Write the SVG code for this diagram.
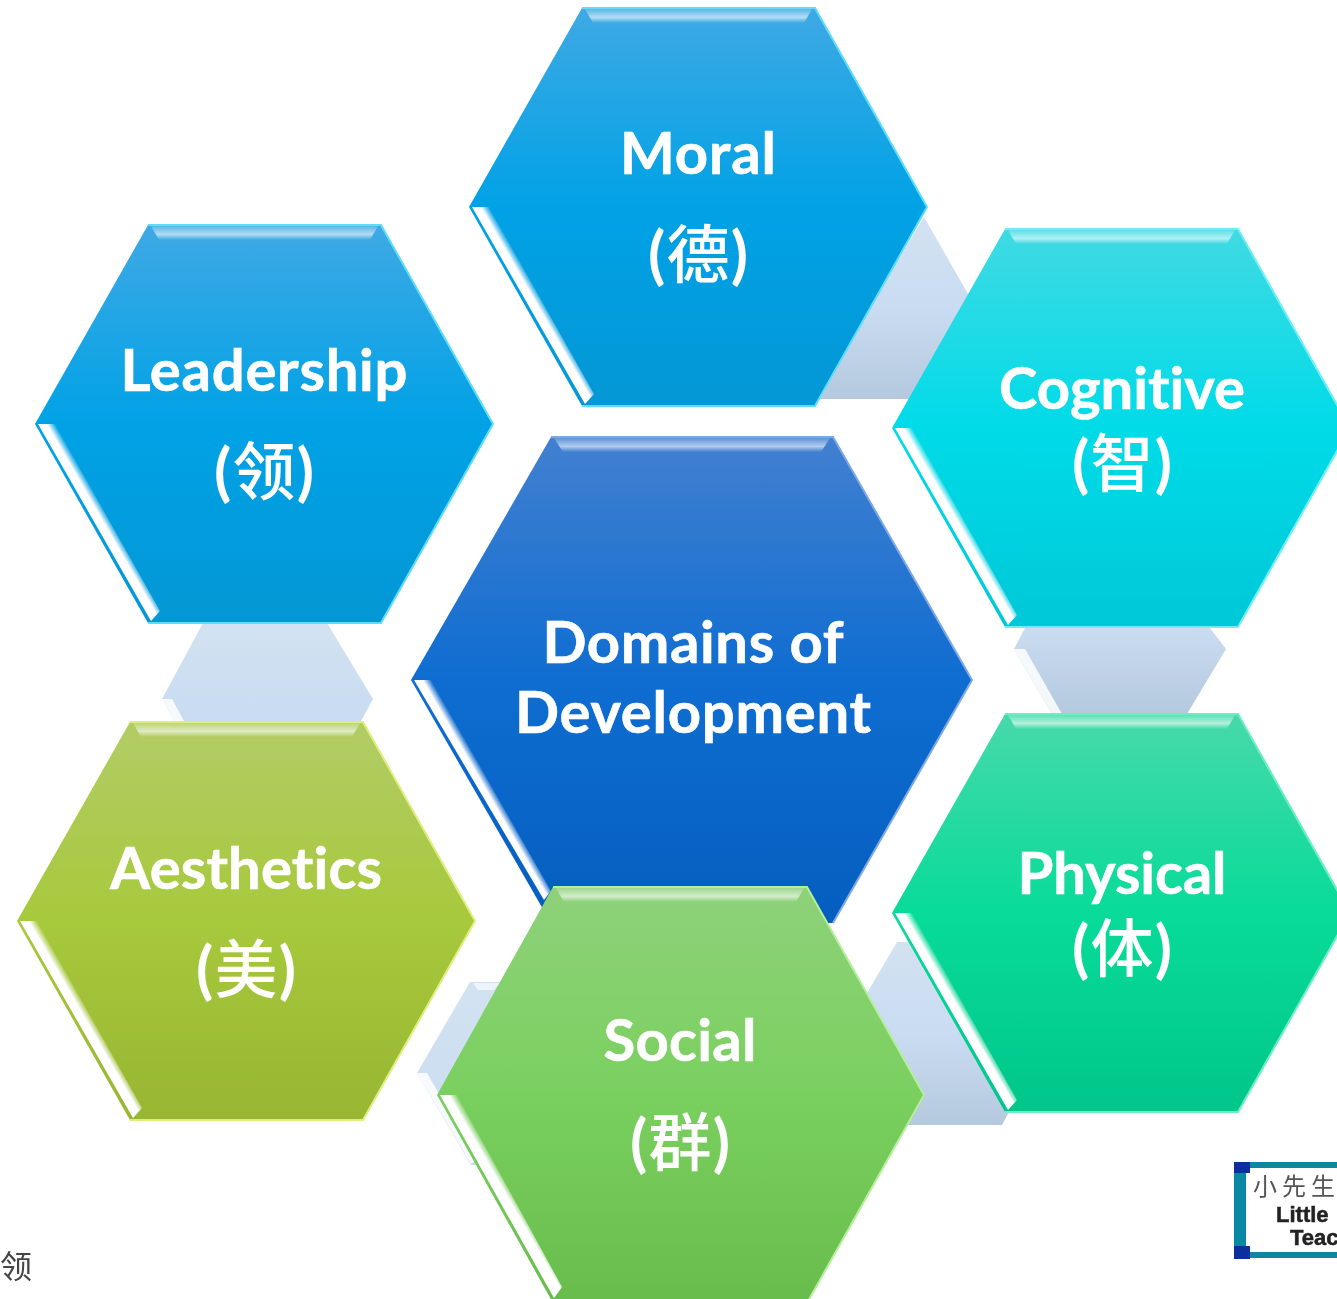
<svg xmlns="http://www.w3.org/2000/svg" xmlns:xlink="http://www.w3.org/1999/xlink" width="1337" height="1299" viewBox="0 0 1337 1299">
<style>
.lb{font-family:"Lato","Noto Sans CJK SC",sans-serif;font-weight:700;font-size:58px;fill:#fff;stroke:#fff;stroke-width:.6;text-anchor:middle;font-variant-ligatures:none}
.cj{font-family:"Lato","Noto Sans CJK SC",sans-serif;font-weight:700;font-size:63px;fill:#fff;text-anchor:middle}
.h{font-weight:500}
.edge{fill:none;stroke:currentColor;stroke-width:2}
.top{fill:url(#gTop)}
.pa{fill:url(#gPaleA)}
.pb{fill:url(#gPaleB)}
.pc{fill:url(#gPaleC)}
.pw{fill:#fff;opacity:.85}
</style>
<defs>
<filter id="blur" x="-10%" y="-10%" width="120%" height="120%"><feGaussianBlur stdDeviation=".7"/></filter>
<linearGradient id="gTop" x1="0" y1="0" x2="0" y2="1"><stop offset="0" stop-color="#fff" stop-opacity=".15"/><stop offset=".6" stop-color="#fff" stop-opacity=".6"/><stop offset="1" stop-color="#fff" stop-opacity="0"/></linearGradient>
<linearGradient id="gStrip" gradientUnits="userSpaceOnUse" x1="3" y1="199" x2="16" y2="191.5"><stop offset="0" stop-color="#fff"/><stop offset=".5" stop-color="#fff"/><stop offset="1" stop-color="#fff" stop-opacity="0"/></linearGradient>
<linearGradient id="gStripC" gradientUnits="userSpaceOnUse" x1="414" y1="680" x2="427" y2="672.5"><stop offset="0" stop-color="#fff"/><stop offset=".5" stop-color="#fff"/><stop offset="1" stop-color="#fff" stop-opacity="0"/></linearGradient>
<linearGradient id="gStripS" gradientUnits="userSpaceOnUse" x1="440" y1="1095" x2="453" y2="1087.5"><stop offset="0" stop-color="#fff"/><stop offset=".5" stop-color="#fff"/><stop offset="1" stop-color="#fff" stop-opacity="0"/></linearGradient>
<linearGradient id="gPaleA" x1="0" y1="0" x2="0" y2="1"><stop offset="0" stop-color="#d3e2f1"/><stop offset=".5" stop-color="#c9dcf2"/><stop offset="1" stop-color="#b5c9de"/></linearGradient>
<linearGradient id="gPaleB" x1="0" y1="0" x2="0" y2="1"><stop offset="0" stop-color="#d2e2f1"/><stop offset="1" stop-color="#c8dbf1"/></linearGradient>
<linearGradient id="gPaleC" x1="0" y1="0" x2="0" y2="1"><stop offset="0" stop-color="#c9dcf2"/><stop offset="1" stop-color="#b5c9de"/></linearGradient>
<linearGradient id="gBlue" x1="0" y1="0" x2="0" y2="1"><stop offset="0" stop-color="#3fa9e4"/><stop offset=".5" stop-color="#00a2e6"/><stop offset="1" stop-color="#0497d5"/></linearGradient>
<linearGradient id="gCen" x1="0" y1="0" x2="0" y2="1"><stop offset="0" stop-color="#4280d0"/><stop offset=".5" stop-color="#0f6dd1"/><stop offset="1" stop-color="#045ebf"/></linearGradient>
<linearGradient id="gCyan" x1="0" y1="0" x2="0" y2="1"><stop offset="0" stop-color="#40dae3"/><stop offset=".5" stop-color="#00dbe8"/><stop offset="1" stop-color="#00c8d8"/></linearGradient>
<linearGradient id="gTeal" x1="0" y1="0" x2="0" y2="1"><stop offset="0" stop-color="#47d9a9"/><stop offset=".5" stop-color="#08db9a"/><stop offset="1" stop-color="#00c68a"/></linearGradient>
<linearGradient id="gOlive" x1="0" y1="0" x2="0" y2="1"><stop offset="0" stop-color="#b2cc66"/><stop offset=".5" stop-color="#a7c93c"/><stop offset="1" stop-color="#98b632"/></linearGradient>
<linearGradient id="gGreen" x1="0" y1="0" x2="0" y2="1"><stop offset="0" stop-color="#8ed17a"/><stop offset=".5" stop-color="#7ad05f"/><stop offset="1" stop-color="#68bc4c"/></linearGradient>
<g id="hex">
<polygon points="113,0 346,0 458,199 346,398 113,398 0,199"/>
<polygon class="top" points="116,1 343,1 335,15 124,15"/>
<polyline class="edge" points="113,0 346,0 458,199 346,398 113,398"/>
<polygon fill="url(#gStrip)" points="3,199 20,199 125,386 116,396"/>
</g>
</defs>
<rect width="1337" height="1299" fill="#fff"/>

<g id="connectors">
<polygon class="pa" points="924,217 1000,350 975,399 820,399 880,290"/>
<polygon class="pb" points="203,623 327,623 373,699 360,723 176,723 162,699"/>
<polygon class="pw" points="162,699 172,699 185,723 176,723"/>
<polygon class="pc" points="1025,628 1210,628 1226,649 1187,714 1052,714 1014,649"/>
<polygon class="pw" points="1014,649 1025,649 1062,714 1052,714"/>
<polygon class="pa" points="897,942 860,1005 900,1125 1002,1125 1010,1110 950,1000 915,942"/>
<polygon class="pb" points="470,982 510,982 540,1100 480,1165 471,1165 417,1073"/>
<polygon class="pw" points="417,1073 427,1073 477,1160 471,1164"/>
<polygon fill="#eef4fb" points="473,983 500,983 494,990 478,990"/>
</g>

<g id="node-domains" color="#7fa8e4">
<polygon fill="url(#gCen)" points="551,437 833,437 972,680 833,923 551,923 411,680"/>
<polygon class="top" points="554,438 830,438 821,452 563,452"/>
<polyline class="edge" points="551,437 833,437 972,680 833,923"/>
<polygon fill="url(#gStripC)" points="414,680 431,680 551,891 544,900"/>
<text class="lb" x="693" y="663" textLength="301">Domains of</text>
<text class="lb" x="693" y="733" textLength="356">Development</text>
</g>

<g id="node-moral" fill="url(#gBlue)" color="#5fdcf8">
<use href="#hex" xlink:href="#hex" x="469" y="8"/>
<text class="lb" x="698" y="174" textLength="156">Moral</text>
<text class="cj" x="698" y="277" textLength="100">(<tspan class="h">德</tspan>)</text>
</g>

<g id="node-leadership" fill="url(#gBlue)" color="#5fdcf8">
<use href="#hex" xlink:href="#hex" x="35" y="225"/>
<text class="lb" x="264" y="391" textLength="287">Leadership</text>
<text class="cj" x="264" y="494" textLength="100">(<tspan class="h">领</tspan>)</text>
</g>

<g id="node-cognitive" fill="url(#gCyan)" color="#6feef2">
<use href="#hex" xlink:href="#hex" x="892" y="229"/>
<text class="lb" x="1122" y="409" textLength="246">Cognitive</text>
<text class="cj" x="1122" y="486" textLength="100">(<tspan class="h">智</tspan>)</text>
</g>

<g id="node-physical" fill="url(#gTeal)" color="#6beec4">
<use href="#hex" xlink:href="#hex" x="892" y="714"/>
<text class="lb" x="1122" y="894" textLength="209">Physical</text>
<text class="cj" x="1122" y="971" textLength="100">(<tspan class="h">体</tspan>)</text>
</g>

<g id="node-aesthetics" fill="url(#gOlive)" color="#dcee7c">
<use href="#hex" xlink:href="#hex" x="17" y="722"/>
<text class="lb" x="246" y="889" textLength="272">Aesthetics</text>
<text class="cj" x="246" y="992" textLength="100">(<tspan class="h">美</tspan>)</text>
</g>

<g id="node-social" color="#b5ee9c">
<polygon fill="url(#gGreen)" points="553,887 807,887 924,1095 807,1303 553,1303 437,1095"/>
<polygon class="top" points="556,888 804,888 796,902 564,902"/>
<polyline class="edge" points="553,887 807,887 924,1095 807,1303"/>
<polygon fill="url(#gStripS)" points="440,1095 457,1095 562,1287 554,1298"/>
<text class="lb" x="680" y="1061" textLength="153">Social</text>
<text class="cj" x="680" y="1165" textLength="100">(<tspan class="h">群</tspan>)</text>
</g>

<g id="logo">
<rect x="1240" y="1165" width="110" height="90" fill="#fff" stroke="#11879f" stroke-width="6"/>
<rect x="1234" y="1162" width="16" height="11" fill="#0b2f9c"/>
<rect x="1234" y="1246" width="16" height="13" fill="#0b2f9c"/>
<rect x="1234" y="1173" width="12" height="73" fill="#0a89a6"/>
<text x="1253" y="1195" font-family="'Noto Sans CJK SC',sans-serif" font-size="24" letter-spacing="5" fill="#555" filter="url(#blur)">小先生</text>
<text x="1276" y="1222" font-family="'Liberation Sans',sans-serif" font-weight="700" font-size="22" stroke="#222" stroke-width=".5" fill="#222" filter="url(#blur)">Little</text>
<text x="1290" y="1245" font-family="'Liberation Sans',sans-serif" font-weight="700" font-size="22" stroke="#222" stroke-width=".5" fill="#222" filter="url(#blur)">Teac</text>
</g>

<text id="stray" x="0" y="1278" font-family="'Noto Sans CJK SC',sans-serif" font-size="32" fill="#444" filter="url(#blur)">领</text>
</svg>
